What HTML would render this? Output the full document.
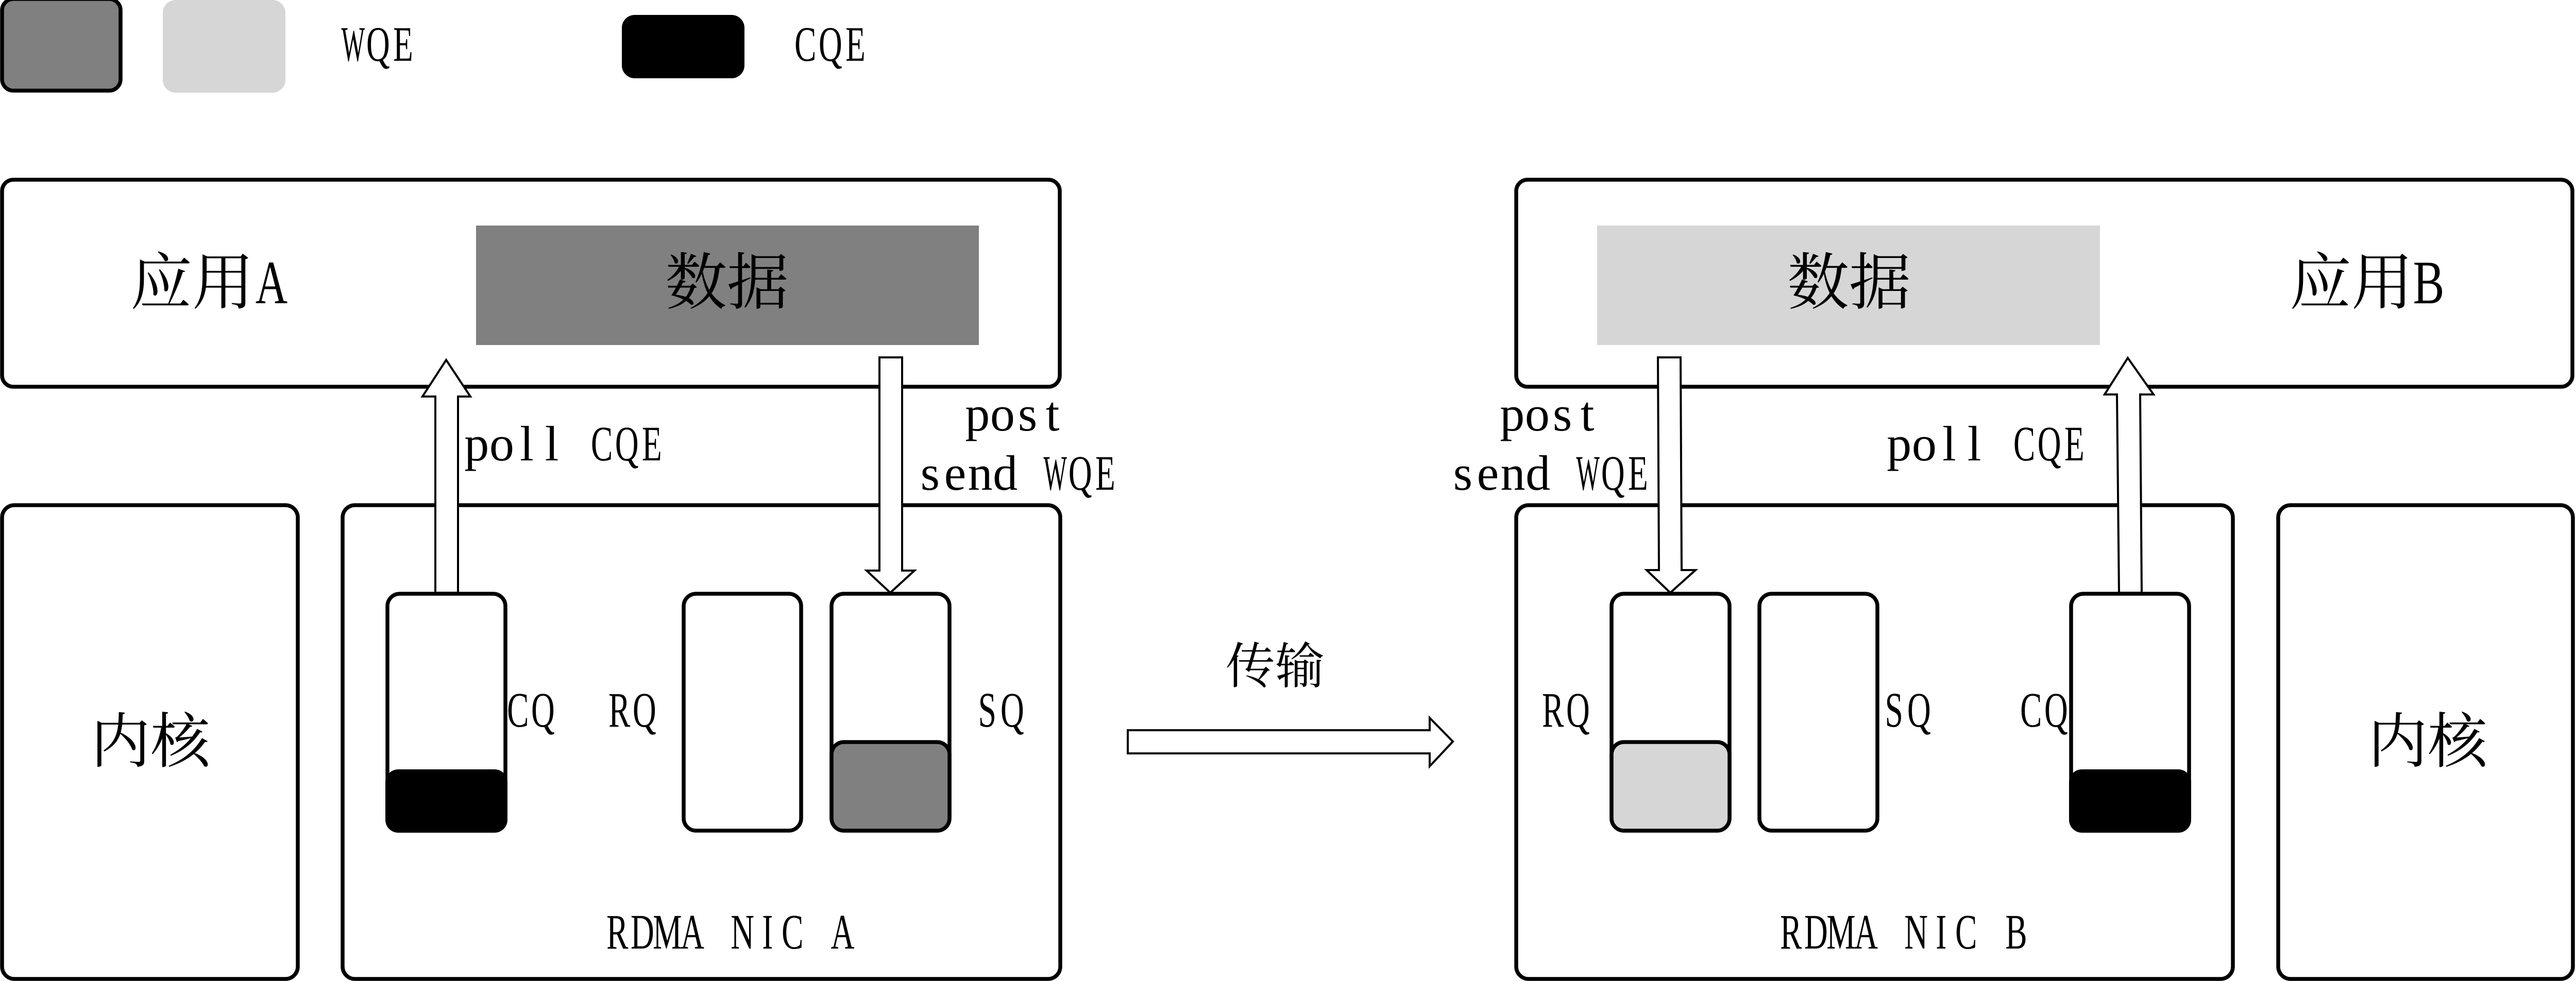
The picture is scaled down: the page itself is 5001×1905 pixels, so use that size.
<!DOCTYPE html>
<html>
<head>
<meta charset="utf-8">
<style>
html,body{margin:0;padding:0;background:#fff;width:5001px;height:1905px;overflow:hidden}
svg{display:block}
.l text,text.l{font-family:"Liberation Serif",serif;font-size:96px;fill:#000;text-anchor:middle}
.c{font-family:"Noto Serif CJK SC","Liberation Serif",serif;font-size:120px;fill:#000}
.b{fill:#fff;stroke:#000;stroke-width:7.5}
.a{fill:#fff;stroke:#000;stroke-width:4}
</style>
</head>
<body>
<svg xmlns="http://www.w3.org/2000/svg" width="5001" height="1905" viewBox="0 0 5001 1905">
<rect width="5001" height="1905" fill="#fff"/>

<!-- legend -->
<rect x="4" y="-2" width="230" height="178" rx="22" ry="22" fill="#808080" stroke="#000" stroke-width="7.5"/>
<rect x="316" y="0" width="238" height="180" rx="25" ry="25" fill="#d6d6d6"/>
<g class="l" transform="translate(661,118) scale(.66,1)"><text x="36.8" transform="translate(36.8,0) scale(.76,1) translate(-36.8,0)">W</text><text x="110.4 184">QE</text></g>
<rect x="1207" y="29" width="238" height="123" rx="25" ry="25" fill="#000"/>
<g class="l" transform="translate(1539,118) scale(.66,1)"><text x="36.8 110.4 184">CQE</text></g>

<!-- application boxes -->
<rect class="b" x="4" y="349" width="2053" height="402" rx="22" ry="22"/>
<rect class="b" x="2943" y="349" width="2050" height="402" rx="22" ry="22"/>
<rect x="924" y="438" width="976" height="232" fill="#808080"/>
<rect x="3100" y="438" width="976" height="232" fill="#d6d6d6"/>
<text class="c" x="253" y="590">应用</text>
<g class="l" transform="translate(527,589) scale(.72,1)"><text x="0" style="font-size:120px">A</text></g>
<text class="c" x="1291" y="590">数据</text>
<text class="c" x="3469" y="590">数据</text>
<text class="c" x="4444" y="590">应用</text>
<g class="l" transform="translate(4714,589) scale(.76,1)"><text x="0" style="font-size:120px">B</text></g>

<!-- kernel + NIC boxes -->
<rect class="b" x="4" y="981" width="574" height="920" rx="24" ry="24"/>
<rect class="b" x="665" y="981" width="1393" height="920" rx="24" ry="24"/>
<rect class="b" x="2943" y="981" width="1391" height="920" rx="24" ry="24"/>
<rect class="b" x="4422" y="981" width="572" height="920" rx="24" ry="24"/>
<text class="c" style="font-size:116px" x="176" y="1480">内核</text>
<text class="c" style="font-size:116px" x="4596" y="1480">内核</text>

<!-- queues A -->
<rect class="b" x="752" y="1153" width="229" height="460" rx="24" ry="24"/>
<rect x="748" y="1494" width="237" height="123" rx="25" ry="25" fill="#000"/>
<rect class="b" x="1327" y="1153" width="228" height="460" rx="24" ry="24"/>
<rect class="b" x="1614" y="1153" width="229" height="460" rx="24" ry="24"/>
<rect x="1614" y="1441" width="229" height="172" rx="24" ry="24" fill="#808080" stroke="#000" stroke-width="7.5"/>

<!-- queues B -->
<rect class="b" x="3128" y="1153" width="229" height="460" rx="24" ry="24"/>
<rect x="3128" y="1441" width="229" height="172" rx="24" ry="24" fill="#d6d6d6" stroke="#000" stroke-width="7.5"/>
<rect class="b" x="3415" y="1153" width="229" height="460" rx="24" ry="24"/>
<rect class="b" x="4020" y="1153" width="229" height="460" rx="24" ry="24"/>
<rect x="4016" y="1494" width="237" height="123" rx="25" ry="25" fill="#000"/>

<!-- arrows -->
<polygon class="a" points="866,699 913,770 889,770 889,1151 845,1151 845,770 820,770"/>
<polygon class="a" points="1707,694 1751,694 1751,1108 1775,1108 1728,1151 1682,1108 1707,1108"/>
<polygon class="a" points="3218,694 3262,694 3264,1107 3291,1107 3242,1151 3196,1107 3220,1107"/>
<polygon class="a" points="4130,695 4180,766 4154,766 4157,1151 4113,1151 4109,766 4085,766"/>
<polygon class="a" points="2189,1418 2775,1418 2775,1394 2820,1440 2775,1488 2775,1463 2189,1463"/>

<!-- labels -->
<text class="l" x="925.3 973.9 1022.5 1071.1" y="894">poll</text>
<g class="l" transform="translate(901,894) scale(.66,1)"><text x="404.8 478.4 552">CQE</text></g>
<text class="l" x="1897.3 1945.9 1994.5 2043.1" y="836">post</text>
<text class="l" x="1805.3 1853.9 1902.5 1951.1" y="951">send</text>
<g class="l" transform="translate(1781,951) scale(.66,1)"><text x="404.8" transform="translate(404.8,0) scale(.76,1) translate(-404.8,0)">W</text><text x="478.4 552">QE</text></g>
<text class="l" x="2935.3 2983.9 3032.5 3081.1" y="836">post</text>
<text class="l" x="2839.3 2887.9 2936.5 2985.1" y="951">send</text>
<g class="l" transform="translate(2815,951) scale(.66,1)"><text x="404.8" transform="translate(404.8,0) scale(.76,1) translate(-404.8,0)">W</text><text x="478.4 552">QE</text></g>
<text class="l" x="3686.3 3734.9 3783.5 3832.1" y="894">poll</text>
<g class="l" transform="translate(3662,894) scale(.66,1)"><text x="404.8 478.4 552">CQE</text></g>

<g class="l" transform="translate(981,1411) scale(.66,1)"><text x="36.8 110.4">CQ</text></g>
<g class="l" transform="translate(1178,1411) scale(.66,1)"><text x="36.8 110.4">RQ</text></g>
<g class="l" transform="translate(1892,1411) scale(.66,1)"><text x="36.8 110.4">SQ</text></g>
<g class="l" transform="translate(2990,1411) scale(.66,1)"><text x="36.8 110.4">RQ</text></g>
<g class="l" transform="translate(3652,1411) scale(.66,1)"><text x="36.8 110.4">SQ</text></g>
<g class="l" transform="translate(3918,1411) scale(.66,1)"><text x="36.8 110.4">CQ</text></g>

<g class="l" transform="translate(1174,1842) scale(.66,1)"><text x="36.8 110.4 184 257.6 331.2 404.8 478.4 552 625.6 699.2">RDMA NIC A</text></g>
<g class="l" transform="translate(3452,1842) scale(.66,1)"><text x="36.8 110.4 184 257.6 331.2 404.8 478.4 552 625.6 699.2">RDMA NIC B</text></g>

<text class="c" style="font-size:96px" x="2379" y="1327">传输</text>
</svg>
</body>
</html>
